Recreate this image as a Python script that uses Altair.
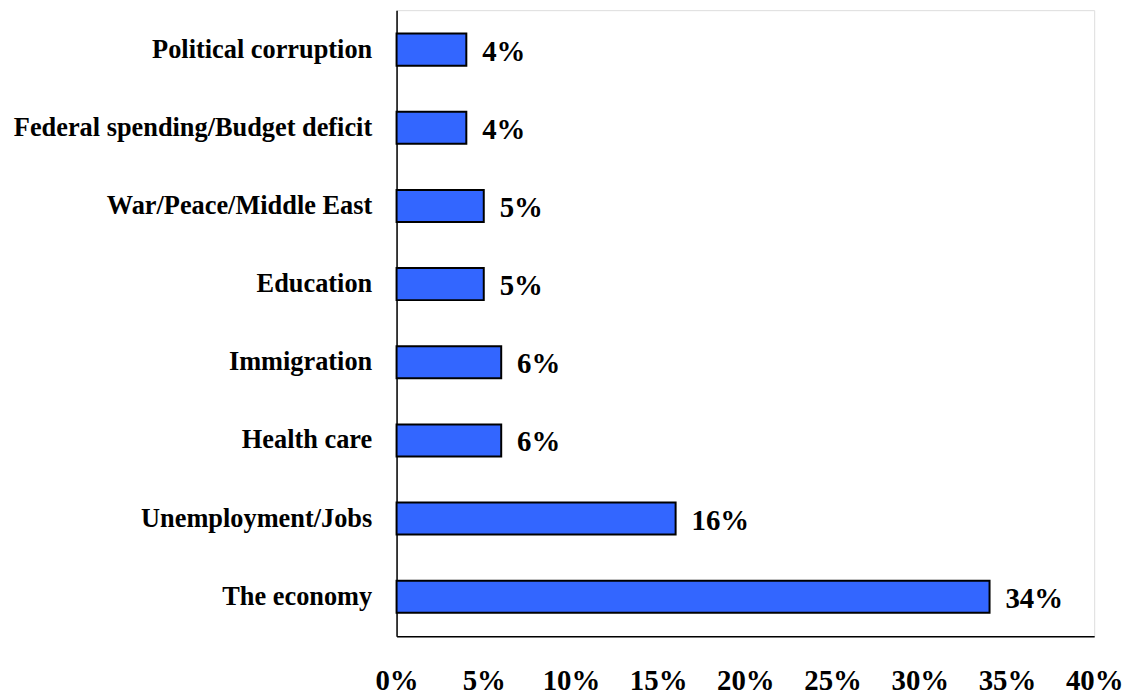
import altair as alt
import pandas as pd

categories = [
    "Political corruption",
    "Federal spending/Budget deficit",
    "War/Peace/Middle East",
    "Education",
    "Immigration",
    "Health care",
    "Unemployment/Jobs",
    "The economy",
]
values = [4, 4, 5, 5, 6, 6, 16, 34]
x_ticks = [0, 5, 10, 15, 20, 25, 30, 35, 40]

df = pd.DataFrame({"issue": categories, "pct": values})
df["label"] = df["pct"].astype(str) + "%"

FONT = "Liberation Serif"

y_enc = alt.Y(
    "issue:N",
    sort=categories,
    title=None,
    scale=alt.Scale(paddingInner=0.59, paddingOuter=0.3),
    axis=alt.Axis(
        labelFont=FONT,
        labelFontSize=26.5,
        labelFontWeight="bold",
        labelColor="black",
        labelPadding=25,
        ticks=False,
        domainColor="black",
        domainWidth=1.5,
        labelLimit=500,
    ),
)
x_enc = alt.X(
    "pct:Q",
    title=None,
    scale=alt.Scale(domain=[0, 40], nice=False),
    axis=alt.Axis(
        values=x_ticks,
        labelExpr="datum.value + '%'",
        labelFont=FONT,
        labelFontSize=29,
        labelFontWeight="bold",
        labelColor="black",
        labelBaseline="alphabetic",
        labelPadding=54,
        ticks=False,
        grid=False,
        domainColor="black",
        domainWidth=1.5,
        labelFlush=False,
    ),
)

bars = alt.Chart(df).mark_bar(
    color="#3366FF", stroke="black", strokeWidth=2
).encode(x=x_enc, y=y_enc)

text = alt.Chart(df).mark_text(
    align="left", baseline="middle", dx=16, dy=2,
    font=FONT, fontSize=29, fontWeight="bold", color="black"
).encode(x="pct:Q", y=alt.Y("issue:N", sort=categories), text="label:N")

chart = (
    alt.layer(bars, text)
    .properties(
        width=702,
        height=630,
        autosize=alt.AutoSizeParams(type="none"),
        padding={"left": 391, "top": 0, "right": 30, "bottom": 60},
    )
    .configure_view(stroke="#808080", strokeWidth=1.5)
    .configure(background="white")
)

chart.save("out.html", embed_options={"renderer": "svg", "actions": False})
